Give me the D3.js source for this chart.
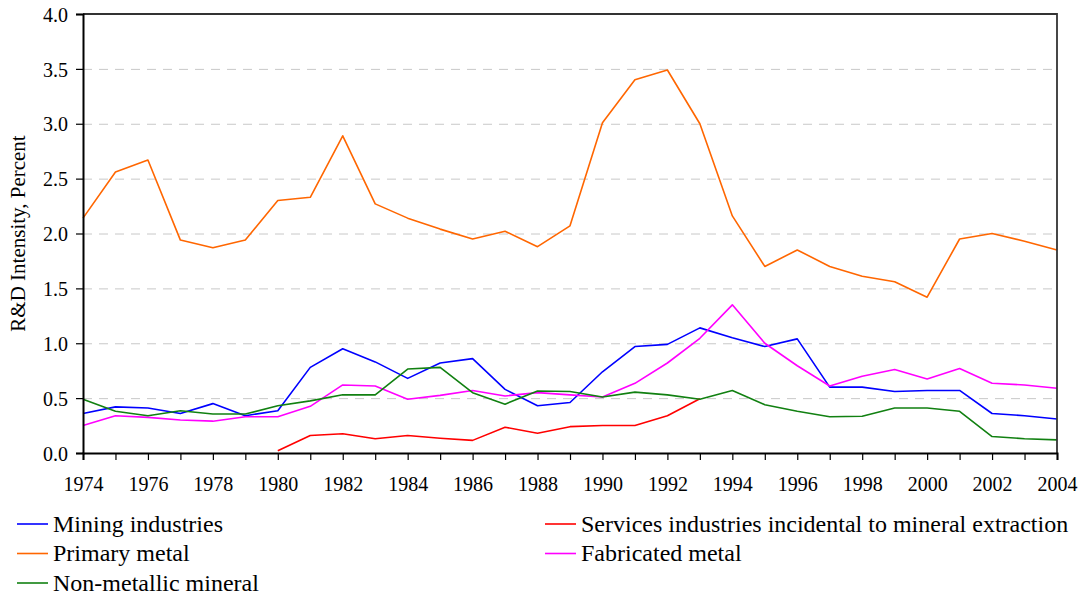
<!DOCTYPE html>
<html>
<head>
<meta charset="utf-8">
<script src="https://cdn.jsdelivr.net/npm/d3@7"></script>
<style>
  body { margin: 0; background: #fff; }
  svg { display: block; }
  svg text { font-family: "Times New Roman", "Liberation Serif", Tinos, Times, "DejaVu Serif", serif; }
</style>
</head>
<body>
<svg id="chart"></svg>
<script>
// years on the x axis
const years = d3.range(1974, 2005);
const xTickLabels = ["1974", "1976", "1978", "1980", "1982", "1984", "1986", "1988", "1990", "1992", "1994", "1996", "1998", "2000", "2002", "2004"];
const yTickLabels = ["0.0", "0.5", "1.0", "1.5", "2.0", "2.5", "3.0", "3.5", "4.0"];

// series values, 1974..2004 (null = no data)
const mining = [0.36, 0.42, 0.41, 0.36, 0.45, 0.34, 0.385, 0.78, 0.95, 0.83, 0.68, 0.82, 0.86, 0.58, 0.43, 0.46, 0.74, 0.97, 0.99, 1.14, 1.05, 0.97, 1.04, 0.60, 0.60, 0.56, 0.57, 0.57, 0.36, 0.34, 0.31];
const services = [null, null, null, null, null, null, 0.02, 0.16, 0.175, 0.13, 0.16, 0.135, 0.115, 0.235, 0.18, 0.24, 0.25, 0.25, 0.34, 0.495, null, null, null, null, null, null, null, null, null, null, null];
const primary = [2.14, 2.56, 2.67, 1.94, 1.87, 1.94, 2.30, 2.33, 2.89, 2.27, 2.14, 2.04, 1.95, 2.02, 1.88, 2.07, 3.01, 3.40, 3.49, 3.00, 2.16, 1.70, 1.85, 1.70, 1.61, 1.56, 1.42, 1.95, 2.00, 1.93, 1.85];
const fabricated = [0.25, 0.34, 0.325, 0.30, 0.29, 0.33, 0.33, 0.425, 0.62, 0.61, 0.49, 0.525, 0.57, 0.52, 0.55, 0.53, 0.51, 0.635, 0.82, 1.045, 1.35, 1.00, 0.795, 0.61, 0.70, 0.76, 0.675, 0.77, 0.635, 0.62, 0.59];
const nonMetallic = [0.49, 0.38, 0.34, 0.385, 0.355, 0.355, 0.43, 0.475, 0.53, 0.53, 0.765, 0.78, 0.55, 0.445, 0.565, 0.56, 0.51, 0.555, 0.53, 0.49, 0.57, 0.44, 0.38, 0.33, 0.335, 0.41, 0.41, 0.38, 0.15, 0.13, 0.12];

const seriesNames = ["Mining industries", "Services industries incidental to mineral extraction", "Primary metal", "Fabricated metal", "Non-metallic mineral"];
const seriesValues = [mining, services, primary, fabricated, nonMetallic];
const seriesColors = ["#0000ff", "#ff0000", "#ff6600", "#ff00ff", "#118011"];

const width = 1081, height = 600;
const margin = { top: 14, right: 24, bottom: 147, left: 83 };

const svg = d3.select("#chart").attr("width", width).attr("height", height);

// Scales
const x = d3.scaleLinear()
  .domain([1974, 2004])
  .range([margin.left, width - margin.right]);

const y = d3.scaleLinear()
  .domain([0, 4])
  .range([height - margin.bottom, margin.top]);

// Dashed grid
svg.append("g")
  .attr("transform", `translate(${margin.left},0)`)
  .call(d3.axisLeft(y)
    .tickValues(yTickLabels.map(Number).filter(v => v > 0 && v < 4))
    .tickSize(-(width - margin.left - margin.right))
    .tickFormat(""))
  .call(g => g.select(".domain").remove())
  .selectAll(".tick line")
  .attr("stroke", "#c8c8c8")
  .attr("stroke-dasharray", "9,7");

// Lines
const line = d3.line()
  .defined(d => d.v != null)
  .x(d => x(d.year))
  .y(d => y(d.v));

seriesValues.forEach((vals, i) => {
  svg.append("path")
    .datum(years.map((yr, j) => ({ year: yr, v: vals[j] })))
    .attr("fill", "none")
    .attr("stroke", seriesColors[i])
    .attr("stroke-width", 1.6)
    .attr("stroke-linejoin", "round")
    .attr("d", line);
});

// Plot frame (top & right)
svg.append("path")
  .attr("d", `M${margin.left},${margin.top}H${width - margin.right}V${height - margin.bottom}`)
  .attr("fill", "none")
  .attr("stroke", "#333")
  .attr("stroke-width", 1.8);

// Axes
const xAxis = svg.append("g")
  .attr("transform", `translate(0,${height - margin.bottom})`)
  .call(d3.axisBottom(x)
    .tickValues(years)
    .tickSize(7)
    .tickPadding(17)
    .tickFormat(d => xTickLabels.includes(String(d)) ? String(d) : ""));

const yAxis = svg.append("g")
  .attr("transform", `translate(${margin.left},0)`)
  .call(d3.axisLeft(y)
    .tickValues(yTickLabels.map(Number))
    .tickSize(7)
    .tickPadding(8)
    .tickFormat(d => yTickLabels[Math.round(d * 2)]));

[xAxis, yAxis].forEach(g => {
  g.attr("font-family", null);
  g.select(".domain").attr("stroke", "#000").attr("stroke-width", 2);
  g.selectAll(".tick line").attr("stroke", "#000").attr("stroke-width", 1.2);
  g.selectAll(".tick text")
    .attr("fill", "#000")
    .style("font-size", "20px");
});
yAxis.selectAll(".tick text").attr("dy", "0.36em");

// Y-axis label
svg.append("text")
  .attr("transform", `translate(25,${(margin.top + height - margin.bottom) / 2}) rotate(-90)`)
  .attr("text-anchor", "middle")
  .attr("fill", "#000")
  .style("font-size", "21px")
  .text("R&D Intensity, Percent");

// Legend
const legendCols = [17, 545];
const legendRows = [524, 553.5, 583];
seriesNames.forEach((name, i) => {
  const lx = legendCols[i % 2];
  const ly = legendRows[Math.floor(i / 2)];
  const g = svg.append("g");
  g.append("line")
    .attr("x1", lx).attr("x2", lx + 31)
    .attr("y1", ly).attr("y2", ly)
    .attr("stroke", seriesColors[i])
    .attr("stroke-width", 1.6);
  g.append("text")
    .attr("x", lx + 36)
    .attr("y", ly)
    .attr("dy", "0.33em")
    .attr("fill", "#000")
    .style("font-size", "24px")
    .text(name);
});
</script>
</body>
</html>
